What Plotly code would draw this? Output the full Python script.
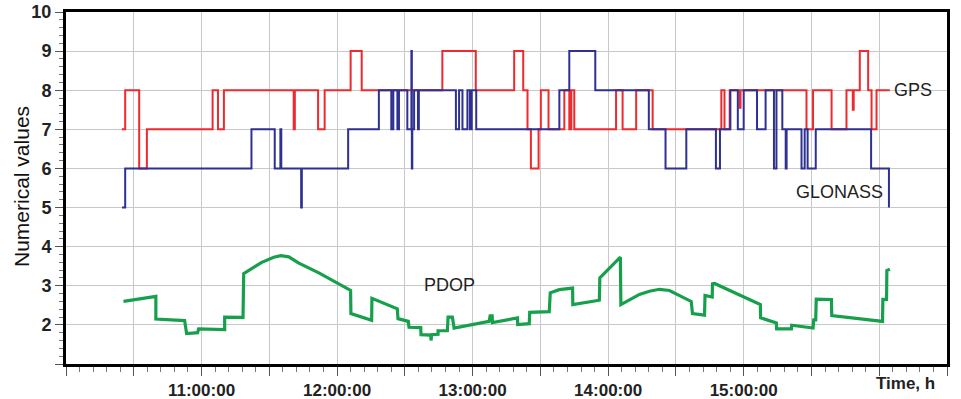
import pandas as pd
import plotly.graph_objects as go

# ---- data (time in minutes after 10:00:00) ----
gps_t = [24.7, 26.2, 32.4, 35.8, 64.9, 67.3, 69.9, 100.8, 101.3, 111.6, 114.5, 126.0, 130.9,
         166.6, 181.4, 198.4, 202.4, 204.3, 205.8, 209.2, 210.2, 213.6, 220.6, 222.8, 223.7,
         225.0, 243.5, 246.4, 252.4, 259.7, 290.1, 291.5, 293.8, 298.2, 298.6, 327.8, 330.7,
         338.9, 345.5, 348.3, 348.7, 351.4, 355.1, 356.6, 358.8, 364.7]
gps_v = [7, 8, 6, 7, 8, 7, 8, 7, 8, 7, 8, 9, 8,
         9, 8, 9, 8, 7, 6, 7, 8, 7, 8, 7, 8,
         7, 8, 7, 8, 7, 8, 7, 8, 7.55, 8, 7, 8,
         7, 8, 7.5, 8, 9, 8, 7, 8, 8]

glo_t = [24.8, 26.2, 82.1, 92.4, 94.9, 95.3, 104.1, 104.4, 124.9, 138.5, 144.0, 144.9, 146.7,
         147.4, 151.1, 152.9, 153.1, 153.3, 154.1, 155.8, 156.2, 172.6, 174.0, 175.5, 177.7,
         178.8, 179.6, 181.6, 218.4, 222.8, 234.3, 258.0, 265.4, 274.6, 287.7, 289.5, 294.1,
         297.4, 300.0, 305.9, 309.7, 313.4, 314.5, 317.1, 318.6, 319.0, 325.6, 327.0, 328.3,
         331.9, 356.4, 364.3]
glo_v = [5, 6, 7, 6, 7, 6, 5, 6, 7, 8, 7, 8, 7,
         8, 7, 9, 6, 7, 8, 7, 8, 7, 8, 7, 8,
         7, 8, 7, 8, 9, 8, 7, 6, 7, 6, 7, 8,
         7, 8, 7, 8, 6, 8, 7, 6, 7, 6, 7, 6,
         7, 6, 5]

pdop_t = [25.45, 39.78, 39.78, 52.51, 53.39, 58.27, 58.71, 70.24, 70.24, 78.36, 78.67, 86.65,
          91.97, 95.08, 98.62, 103.06, 111.93, 125.98, 126.12, 135.30, 135.43, 146.65, 146.96,
          151.53, 151.84, 157.03, 157.16, 161.46, 161.60, 161.82, 164.70, 164.70, 168.82, 169.14,
          171.04, 171.80, 187.32, 187.76, 188.65, 188.78, 199.87, 199.96, 205.06, 205.28, 213.92,
          214.37, 218.36, 224.26, 224.35, 236.10, 236.32, 245.41, 245.63, 253.84, 258.27, 262.71,
          267.14, 271.58, 276.76, 277.34, 282.66, 282.88, 286.07, 286.21, 287.10, 307.36, 307.50,
          314.46, 314.59, 321.11, 321.24, 330.69, 331.00, 331.88, 332.11, 338.85, 338.98, 361.46,
          361.60, 363.24, 363.38, 364.70]
pdop_v = [2.60, 2.73, 2.15, 2.11, 1.78, 1.80, 1.90, 1.88, 2.20, 2.19, 3.31, 3.60,
          3.73, 3.77, 3.74, 3.58, 3.33, 2.88, 2.29, 2.12, 2.68, 2.41, 2.16,
          2.09, 1.94, 1.93, 1.75, 1.74, 1.60, 1.75, 1.76, 1.85, 1.85, 2.20,
          2.20, 1.92, 2.09, 2.23, 2.23, 2.06, 2.18, 2.01, 2.03, 2.32, 2.34,
          2.82, 2.90, 2.94, 2.52, 2.63, 3.20, 3.73, 2.52, 2.78, 2.86, 2.91,
          2.88, 2.76, 2.60, 2.29, 2.25, 2.75, 2.71, 3.05, 3.06, 2.52, 2.18,
          2.05, 1.90, 1.90, 1.99, 1.92, 2.13, 2.13, 2.66, 2.65, 2.24, 2.09,
          2.65, 2.65, 3.39, 3.42]

series_labels = ["GPS", "GLONASS", "PDOP"]
hour_labels = ["11:00:00", "12:00:00", "13:00:00", "14:00:00", "15:00:00"]

base = pd.Timestamp("2000-01-01 10:00:00")


def to_time(mins):
    return [base + pd.Timedelta(minutes=m) for m in mins]


FONT = "Liberation Sans, Arial, sans-serif"
ML, MR, MT, MB = 66, 14, 12, 35
W, H = 961, 399
PW, PH = W - ML - MR, H - MT - MB

fig = go.Figure()
fig.add_trace(go.Scatter(x=to_time(gps_t), y=gps_v, mode="lines", line_shape="hv",
                         line=dict(color="#ee2a2e", width=2), name="GPS"))
fig.add_trace(go.Scatter(x=to_time(glo_t), y=glo_v, mode="lines", line_shape="hv",
                         line=dict(color="#2e3192", width=2), name="GLONASS"))
fig.add_trace(go.Scatter(x=to_time(pdop_t), y=pdop_v, mode="lines",
                         line=dict(color="#17a04c", width=3.2), name="PDOP"))

# x ticks: every 30 min, labels only on whole hours 11..15
tick_mins = list(range(0, 391, 30))
tick_vals = to_time(tick_mins)
label_map = {60 * (i + 1): lab for i, lab in enumerate(hour_labels)}
tick_text = [label_map.get(m, "") for m in tick_mins]

fig.update_xaxes(
    type="date", range=[base, base + pd.Timedelta(minutes=390)],
    tickmode="array", tickvals=tick_vals, ticktext=tick_text,
    ticks="outside", ticklen=9, tickwidth=1, tickcolor="#555555",
    showgrid=True, gridcolor="#c8c8c8", gridwidth=1,
    showline=True, linecolor="black", linewidth=3, mirror=True,
    tickfont=dict(family=FONT, size=17, color="#222222", weight="bold"),
    minor=dict(ticks="outside", ticklen=5, tickcolor="#777777", dtick=6 * 60 * 1000,
               tick0=base, showgrid=False),
    zeroline=False, automargin=False,
)
fig.update_yaxes(
    range=[1, 10], tickmode="array", tickvals=list(range(1, 11)),
    ticktext=[""] + [str(v) for v in range(2, 11)],
    ticks="outside", ticklen=8, tickwidth=1, tickcolor="#555555",
    showgrid=True, gridcolor="#c8c8c8", gridwidth=1,
    showline=True, linecolor="black", linewidth=3, mirror=True,
    tickfont=dict(family=FONT, size=18, color="#222222", weight="bold"),
    minor=dict(ticks="outside", ticklen=4, tickcolor="#777777", dtick=0.2, showgrid=False),
    zeroline=False, automargin=False,
)

fig.add_annotation(x=base + pd.Timedelta(minutes=365.5), y=8, text=series_labels[0],
                   showarrow=False, xanchor="left", yanchor="middle",
                   font=dict(family=FONT, size=18, color="#222222"))
fig.add_annotation(x=base + pd.Timedelta(minutes=362.4), y=5.4, text=series_labels[1],
                   showarrow=False, xanchor="right", yanchor="middle",
                   font=dict(family=FONT, size=18, color="#222222"))
fig.add_annotation(x=base + pd.Timedelta(minutes=169.6), y=3.03, text=series_labels[2],
                   showarrow=False, xanchor="center", yanchor="middle",
                   font=dict(family=FONT, size=18, color="#222222"))
# axis titles placed in paper coordinates from pixel positions
fig.add_annotation(x=(905 - ML) / PW, y=-(383 - (H - MB)) / PH, xref="paper", yref="paper",
                   text="Time, h", showarrow=False, xanchor="center", yanchor="middle",
                   font=dict(family=FONT, size=17, color="#222222", weight="bold"))
fig.add_annotation(x=-(ML - 21) / PW, y=(H - MB - 187) / PH, xref="paper", yref="paper",
                   text="Numerical values", textangle=-90, showarrow=False,
                   xanchor="center", yanchor="middle",
                   font=dict(family=FONT, size=21, color="#111111"))

fig.update_layout(
    width=W, height=H,
    margin=dict(l=ML, r=MR, t=MT, b=MB),
    paper_bgcolor="white", plot_bgcolor="white",
    showlegend=False,
)

fig.write_html("out.html")
